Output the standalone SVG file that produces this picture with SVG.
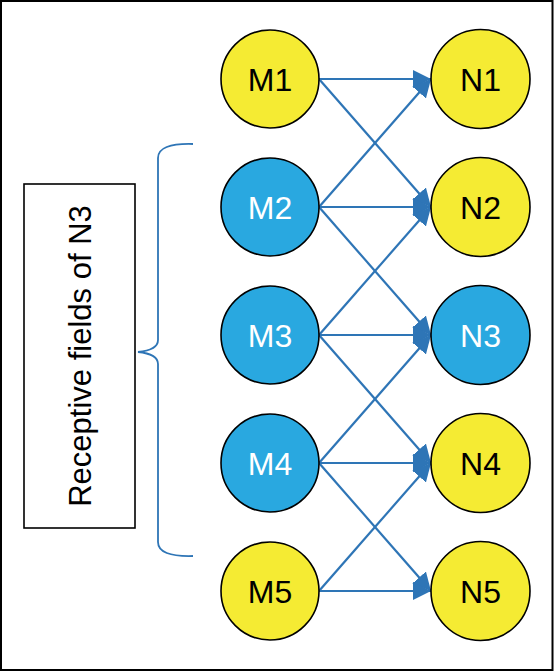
<svg xmlns="http://www.w3.org/2000/svg" width="555" height="672" viewBox="0 0 555 672">
<style>
.node circle{stroke:#000;stroke-width:1.6}
.y circle{fill:#F5EB33}
.b circle{fill:#29A8E0}
.node text{font-family:"Liberation Sans",Arial,sans-serif;font-size:32px;text-anchor:middle}
.y text{fill:#000}
.b text{fill:#fff}
.edge{stroke:#2E75B6;stroke-width:2.2;fill:none;marker-end:url(#arr)}
</style>
<defs>
<marker id="arr" markerUnits="userSpaceOnUse" markerWidth="18" markerHeight="18" refX="18" refY="9" orient="auto">
<path d="M0,0 L18,9 L0,18 z" fill="#2E75B6"/>
</marker>
</defs>
<rect x="1" y="1" width="551.5" height="669" fill="#fff" stroke="#000" stroke-width="2"/>
<g id="label">
<rect x="24" y="184" width="111" height="344" fill="#fff" stroke="#000" stroke-width="1.6"/>
<text transform="translate(91,356) rotate(-90)" font-family="'Liberation Sans',Arial,sans-serif" font-size="31" text-anchor="middle" fill="#000">Receptive fields of N3</text>
</g>
<g id="brace">
<path d="M193,144 Q158,143 158,158 L158,340 Q158,350 138,352 Q158,354 158,364 L158,542 Q158,557 193,556" fill="none" stroke="#2E75B6" stroke-width="1.8"/>
</g>
<g id="connectors">
<line class="edge" x1="319" y1="79" x2="431" y2="79"/>
<line class="edge" x1="319" y1="79" x2="431" y2="207"/>
<line class="edge" x1="319" y1="207" x2="431" y2="79"/>
<line class="edge" x1="319" y1="207" x2="431" y2="207"/>
<line class="edge" x1="319" y1="207" x2="431" y2="335"/>
<line class="edge" x1="319" y1="335" x2="431" y2="207"/>
<line class="edge" x1="319" y1="335" x2="431" y2="335"/>
<line class="edge" x1="319" y1="335" x2="431" y2="463"/>
<line class="edge" x1="319" y1="463" x2="431" y2="335"/>
<line class="edge" x1="319" y1="463" x2="431" y2="463"/>
<line class="edge" x1="319" y1="463" x2="431" y2="591"/>
<line class="edge" x1="319" y1="591" x2="431" y2="463"/>
<line class="edge" x1="319" y1="591" x2="431" y2="591"/>
</g>
<g id="M1" class="node y"><circle cx="270" cy="79" r="49"/><text x="270" y="90.5">M1</text></g>
<g id="M2" class="node b"><circle cx="270" cy="207" r="49"/><text x="270" y="218.5">M2</text></g>
<g id="M3" class="node b"><circle cx="270" cy="335" r="49"/><text x="270" y="346.5">M3</text></g>
<g id="M4" class="node b"><circle cx="270" cy="463" r="49"/><text x="270" y="474.5">M4</text></g>
<g id="M5" class="node y"><circle cx="270" cy="591" r="49"/><text x="270" y="602.5">M5</text></g>
<g id="N1" class="node y"><circle cx="480.5" cy="79" r="49.5"/><text x="480.5" y="90.5">N1</text></g>
<g id="N2" class="node y"><circle cx="480.5" cy="207" r="49.5"/><text x="480.5" y="218.5">N2</text></g>
<g id="N3" class="node b"><circle cx="480.5" cy="335" r="49.5"/><text x="480.5" y="346.5">N3</text></g>
<g id="N4" class="node y"><circle cx="480.5" cy="463" r="49.5"/><text x="480.5" y="474.5">N4</text></g>
<g id="N5" class="node y"><circle cx="480.5" cy="591" r="49.5"/><text x="480.5" y="602.5">N5</text></g>
</svg>
